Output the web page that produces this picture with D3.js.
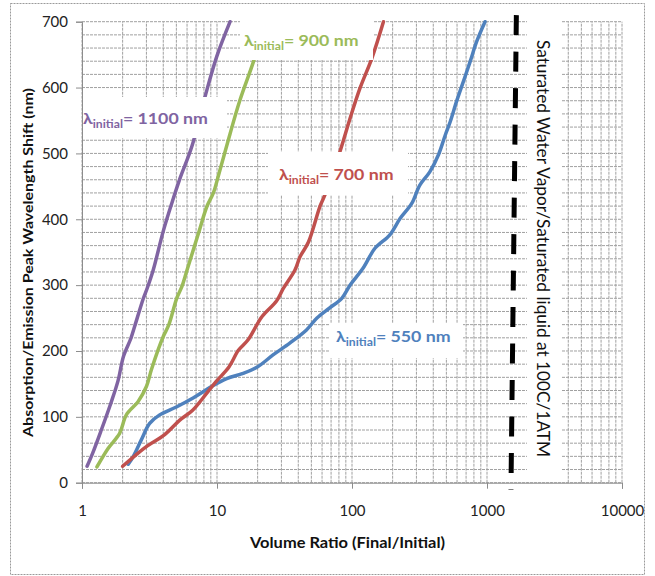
<!DOCTYPE html>
<html>
<head>
<meta charset="utf-8">
<script src="https://cdn.jsdelivr.net/npm/d3@7.9.0/dist/d3.min.js"></script>
<style>
  body { margin: 0; background: #fff; }
  svg { font-family: Lato, "Open Sans", sans-serif; }
</style>
</head>
<body>
<div id="chart"></div>
<script>
// volume ratio (x) and peak shift in nm (y)
const blueX = [2.2, 2.4, 2.75, 3.17, 3.76, 5.0, 6.7, 9.1, 11.8, 15.6, 20, 26, 34.6, 46, 55, 68, 84, 96.7, 121, 148, 190, 227, 277, 318, 377, 437, 491, 534, 595, 668, 749, 839, 967];
const blueY = [28, 40, 65, 90, 103, 115, 129, 146, 158, 166, 176, 194, 212, 232, 250, 265, 280, 300, 326, 356, 376, 401, 424, 452, 472, 498, 528, 548, 579, 609, 639, 670, 700];

const redX = [2.0, 2.5, 3.05, 4.1, 5.3, 6.6, 8.4, 9.8, 12.3, 14.4, 17, 21.5, 27.6, 31, 37.8, 41.2, 47.5, 58, 63, 81.5, 96.7, 114.6, 140, 171];
const redY = [25, 42, 56, 73, 95, 110, 136, 153, 176, 201, 217, 252, 276, 295, 323, 343, 365, 420, 437, 503, 553, 599, 644, 700];

const greenX = [1.29, 1.56, 1.9, 2.13, 2.6, 3.0, 3.26, 3.65, 4.0, 4.4, 5.03, 5.5, 6.0, 7.3, 8.4, 9.4, 10.3, 12.5, 14.8, 18.6, 23];
const greenY = [24, 52, 75, 103, 123, 146, 171, 201, 222, 240, 280, 298, 323, 379, 419, 440, 468, 530, 581, 639, 700];

const purpleX = [1.09, 1.2, 1.39, 1.65, 1.85, 2.03, 2.3, 2.46, 2.85, 3.05, 3.37, 4.0, 4.62, 5.32, 6.5, 8.15, 9.95, 12.5];
const purpleY = [25, 45, 80, 123, 155, 192, 219, 238, 280, 296, 323, 382, 424, 462, 510, 586, 647, 700];

const seriesNames = ["550", "700", "900", "1100"];
const xTicks = [1, 10, 100, 1000, 10000];
const yTicks = [0, 100, 200, 300, 400, 500, 600, 700];

// saturated vapour / liquid line (slightly slanted in the original)
const satX = [1650, 1505];
const satY = [710, -11];

const colors = ["#4F81BD", "#C0504D", "#9BBB59", "#8064A2"];
const allX = [blueX, redX, greenX, purpleX];
const allY = [blueY, redY, greenY, purpleY];

const width = 655, height = 576;
const svg = d3.select("#chart").append("svg")
    .attr("width", width)
    .attr("height", height);

// outer chart border
svg.append("rect")
    .attr("x", 10.5).attr("y", 3.5)
    .attr("width", 634).attr("height", 571)
    .attr("fill", "#fff")
    .attr("stroke", "#9a9a9a")
    .attr("stroke-dasharray", "2,1");

let x = d3.scaleLog().domain([1, 10000]).range([82, 622]);
let y = d3.scaleLinear().domain([0, 700]).range([482.7, 21.7]);

// gridlines
let gridX = [];
for (let p = 1; p < 10000; p *= 10) {
    for (let k = 1; k < 10; k++) gridX.push(p * k);
}
gridX.push(10000);
let gridY = d3.range(0, 701, 20);

let grid = svg.append("g");
grid.selectAll(".gx").data(gridX).join("line")
    .attr("x1", d => x(d)).attr("x2", d => x(d))
    .attr("y1", y(0)).attr("y2", y(700))
    .attr("stroke", "#a0a0a0")
    .attr("stroke-dasharray", "3,1");
grid.selectAll(".gy").data(gridY).join("line")
    .attr("x1", x(1)).attr("x2", x(10000))
    .attr("y1", d => y(d)).attr("y2", d => y(d))
    .attr("stroke", "#a0a0a0")
    .attr("stroke-dasharray", "3,1");

// axes
let xAxis = svg.append("g")
    .attr("transform", `translate(0,${y(0)})`)
    .call(d3.axisBottom(x).tickValues(xTicks).tickFormat(d3.format("d")).tickSize(6).tickPadding(17));
let yAxis = svg.append("g")
    .attr("transform", `translate(${x(1)},0)`)
    .call(d3.axisLeft(y).tickValues(yTicks).tickSize(6).tickPadding(8));

[xAxis, yAxis].forEach(a => {
    a.select(".domain").attr("stroke", "#8c8c8c");
    a.selectAll(".tick line").attr("stroke", "#8c8c8c");
    a.selectAll(".tick text")
        .attr("fill", "#222")
        .style("font-size", "15px")
        .style("font-family", "Lato, sans-serif");
});

// series lines
let line = d3.line()
    .x(d => x(d[0]))
    .y(d => y(d[1]))
    .curve(d3.curveCatmullRom.alpha(0.5));

allX.forEach((xs, i) => {
    let pts = xs.map((v, j) => [v, allY[i][j]]);
    svg.append("path")
        .attr("d", line(pts))
        .attr("fill", "none")
        .attr("stroke", colors[i])
        .attr("stroke-width", 3.5)
        .attr("stroke-linejoin", "round")
        .attr("stroke-linecap", "round");
});

// dashed saturation line
svg.append("line")
    .attr("x1", x(satX[0])).attr("y1", y(satY[0]))
    .attr("x2", x(satX[1])).attr("y2", y(satY[1]))
    .attr("stroke", "#000")
    .attr("stroke-width", 5)
    .attr("stroke-dasharray", "20,16.5");

// series labels with white boxes
const labelBoxes = [
    {box: [330, 323, 133, 35], tx: 336, ty: 342},
    {box: [268, 152, 140, 43], tx: 279, ty: 180},
    {box: [240, 15, 133, 45], tx: 244, ty: 46},
    {box: [83, 97, 144, 41], tx: 83, ty: 124}
];

labelBoxes.forEach((l, i) => {
    svg.append("rect")
        .attr("x", l.box[0]).attr("y", l.box[1])
        .attr("width", l.box[2]).attr("height", l.box[3])
        .attr("fill", "#fff");
    let t = svg.append("text")
        .attr("transform", `translate(${l.tx},${l.ty}) scale(1.11,1)`)
        .attr("fill", colors[i])
        .style("font-size", "16px")
        .style("font-weight", "bold");
    t.append("tspan").text("λ");
    t.append("tspan").text("initial")
        .attr("dy", 4)
        .style("font-size", "11px");
    t.append("tspan").text("= " + seriesNames[i] + " nm")
        .attr("dy", -4);
});

// vertical note
svg.append("rect")
    .attr("x", 527).attr("y", 15)
    .attr("width", 35).attr("height", 467)
    .attr("fill", "#fff");
svg.append("text")
    .attr("transform", "translate(537,248.5) rotate(90)")
    .attr("text-anchor", "middle")
    .attr("fill", "#111")
    .attr("textLength", 417)
    .attr("lengthAdjust", "spacingAndGlyphs")
    .style("font-size", "17px")
    .text("Saturated Water Vapor/Saturated liquid at 100C/1ATM");

// axis titles
svg.append("text")
    .attr("x", 347.5).attr("y", 548)
    .attr("text-anchor", "middle")
    .attr("fill", "#111")
    .attr("textLength", 195)
    .attr("lengthAdjust", "spacingAndGlyphs")
    .style("font-size", "14.5px")
    .style("font-weight", "bold")
    .text("Volume Ratio (Final/Initial)");

svg.append("text")
    .attr("transform", "translate(33,262.5) rotate(-90)")
    .attr("text-anchor", "middle")
    .attr("fill", "#111")
    .attr("textLength", 349)
    .attr("lengthAdjust", "spacingAndGlyphs")
    .style("font-size", "12.5px")
    .style("font-weight", "bold")
    .text("Absorption/Emission Peak Wavelength Shift (nm)");
</script>
</body>
</html>
